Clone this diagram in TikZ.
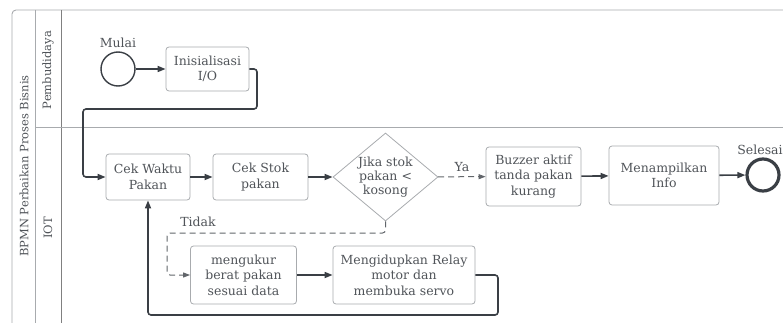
\documentclass[tikz,border=0pt]{standalone}
\usepackage{fontspec}
\setmainfont{DejaVu Serif}
\usepackage{xcolor}
\usetikzlibrary{arrows.meta, shapes.geometric}

\definecolor{teksabu}{HTML}{505459}
\definecolor{garisabu}{HTML}{A8ABAE}
\definecolor{alurgelap}{HTML}{3A3F45}

\begin{document}
\begin{tikzpicture}[
    x=1pt, y=-1pt,
    font=\fontsize{12.5}{15.5}\selectfont, text=teksabu,
    tugas/.style={draw=garisabu, line width=0.8pt, rounded corners=3pt,
                  align=center, inner sep=2pt},
    keputusan/.style={draw=garisabu, line width=0.8pt, diamond,
                  minimum width=105pt, minimum height=88pt, inner sep=0pt},
    peristiwa/.style={circle, draw=alurgelap, minimum size=34pt, inner sep=0pt},
    alur/.style={draw=alurgelap, line width=1.6pt, rounded corners=3pt,
                 -{Triangle[length=8pt, width=6pt]}},
    alurputus/.style={draw=alurgelap!80, line width=1pt, dash pattern=on 6pt off 4pt,
                 rounded corners=3pt, -{Triangle[length=7pt, width=5pt]}},
    jalur/.style={draw=garisabu, line width=0.9pt}
  ]
    \useasboundingbox (0,0) rectangle (783,323);

    % kolam dan jalur
    \draw[jalur, rounded corners=4pt] (12,330) -- (12,10) -- (790,10);
    \draw[jalur] (35,10) -- (35,330);
    \draw[jalur, draw=gray] (61,10) -- (61,330);
    \draw[jalur] (35,127) -- (790,127);
    \node[rotate=90, font=\fontsize{11.5}{14}\selectfont] (kolam) at (24,166)
      {BPMN Perbaikan Proses Bisnis};
    \node[rotate=90, font=\fontsize{11.5}{14}\selectfont] (lajur1) at (48,70)
      {Pembudidaya};
    \node[rotate=90, font=\fontsize{11.5}{14}\selectfont] (lajur2) at (48,228)
      {IOT};

    % simpul
    \node[peristiwa, line width=1.4pt] (mulai) at (118,69) {};
    \node[anchor=south] at (mulai.north) {Mulai};
    \node[tugas, minimum width=83pt, minimum height=44pt] (inisial) at (207.5,69)
      {Inisialisasi\\I/O};
    \node[tugas, minimum width=84pt, minimum height=46pt] (cekwaktu) at (148,177)
      {Cek Waktu\\Pakan};
    \node[tugas, minimum width=95pt, minimum height=46pt] (cekstok) at (260.5,177)
      {Cek Stok\\pakan};
    \node[keputusan, label={[align=center, font=\fontsize{12.5}{14}\selectfont]center:Jika stok\\pakan <\\kosong}]
      (cabang) at (385.5,177) {};
    \node[tugas, minimum width=95pt, minimum height=59pt] (buzzer) at (533.5,176.5)
      {Buzzer aktif\\tanda pakan\\kurang};
    \node[tugas, minimum width=110pt, minimum height=59pt] (tampil) at (664,175.5)
      {Menampilkan\\Info};
    \node[peristiwa, line width=3.2pt, minimum size=32pt] (selesai) at (763,175) {};
    \node[anchor=south] at (760,158) {Selesai};
    \node[tugas, minimum width=106pt, minimum height=58pt] (ukur) at (243.5,275)
      {mengukur\\berat pakan\\sesuai data};
    \node[tugas, minimum width=142pt, minimum height=58pt] (relay) at (404,275)
      {Mengidupkan Relay\\motor dan\\membuka servo};

    % alur
    \draw[alur] (mulai) -- (inisial);
    \draw[alur] (inisial.east) -| (257,109) -| (83,177) -- (cekwaktu.west);
    \draw[alur] (cekwaktu) -- (cekstok);
    \draw[alur] (cekstok) -- (cabang);
    \draw[alurputus] (cabang) -- node[above=1pt] {Ya} (buzzer);
    \draw[alur] (buzzer) -- (tampil);
    \draw[alur] (tampil) -- (selesai);
    \draw[alurputus] (cabang.south) |- (167,233) |- (ukur.west);
    \node at (198,222) {Tidak};
    \draw[alur] (ukur) -- (relay);
    \draw[alur] (relay.east) -| (498,315) -| (cekwaktu.south);
  \end{tikzpicture}
\end{document}
